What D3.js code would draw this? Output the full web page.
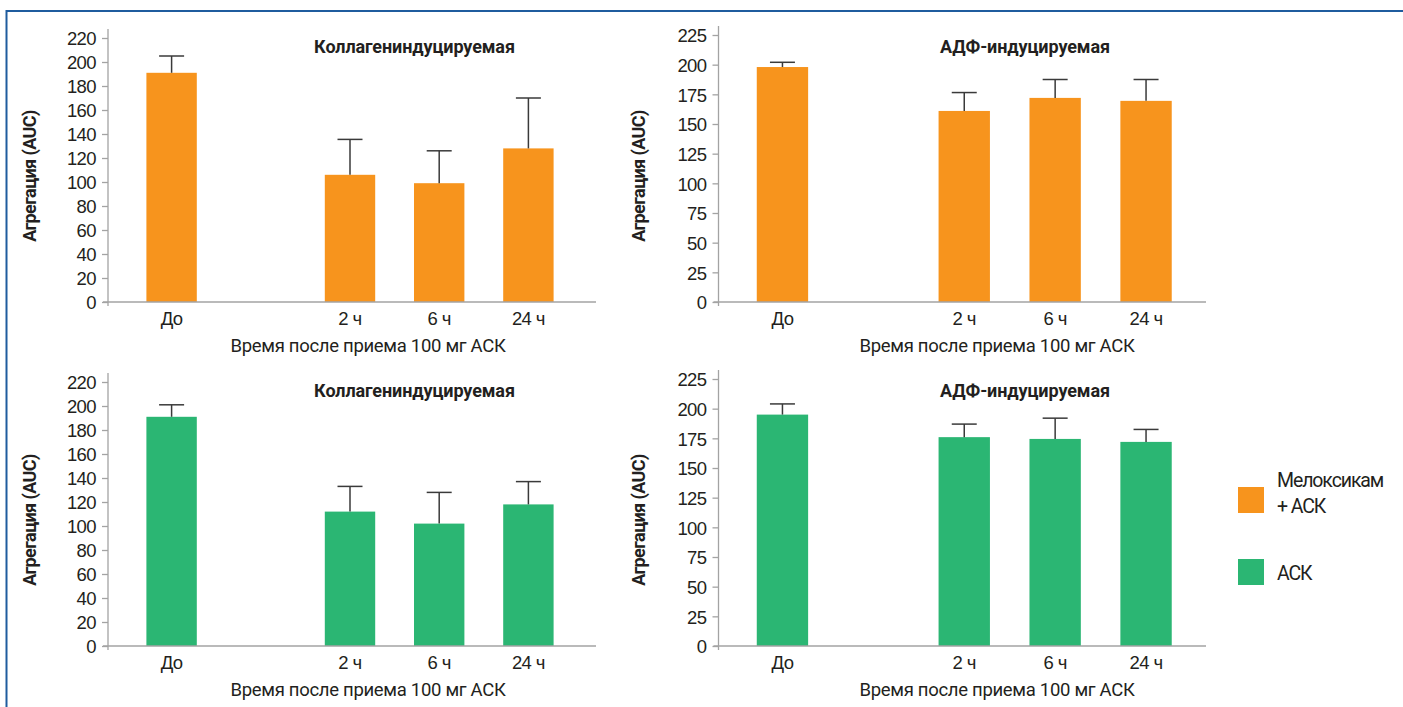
<!DOCTYPE html>
<html>
<head>
<meta charset="utf-8">
<script src="https://cdn.jsdelivr.net/npm/d3@7"></script>
<style>
  body { margin: 0; background: #fff; }
  svg { display: block; font-family: Roboto, "Liberation Sans", sans-serif; }
</style>
</head>
<body>
<svg id="chart" width="1403" height="707"></svg>
<script>
// data
const categories = ["До", "2 ч", "6 ч", "24 ч"];
const xTitle = "Время после приема 100 мг АСК";
const yTitle = "Агрегация (AUC)";
const collagenTitle = "Коллагениндуцируемая";
const adpTitle = "АДФ-индуцируемая";
const collagenTicks = [0, 20, 40, 60, 80, 100, 120, 140, 160, 180, 200, 220];
const adpTicks = [0, 25, 50, 75, 100, 125, 150, 175, 200, 225];

const meloxCollagen = [191, 106, 99, 128];
const meloxCollagenSd = [14, 29.5, 27, 42];
const meloxAdp = [198, 161, 172, 169.5];
const meloxAdpSd = [4, 15.5, 15.5, 18];
const askCollagen = [191, 112, 102, 118];
const askCollagenSd = [10, 21, 26, 19];
const askAdp = [195, 176, 174.5, 172];
const askAdpSd = [9, 11, 17.5, 10.5];

const legendLabels = [["Мелоксикам", "+ АСК"], ["АСК"]];

(function () {
  const ORANGE = "#f7941d", GREEN = "#2bb673";
  const TEXT = "#231f20", AXIS = "#a3a3a3";
  const svg = d3.select("#chart");

  // frame
  svg.append("path")
    .attr("d", "M6.5,707V11H1403")
    .attr("fill", "none")
    .attr("stroke", "#1f5c9e")
    .attr("stroke-width", 2);

  const cols = [
    { axisX: 108, inner: [127, 573], axisEnd: 596, titleX: 414.5, xTitleX: 368, yLabelX: 30, ticks: collagenTicks, yMax: 220, yPx: 264, title: collagenTitle },
    { axisX: 718.5, inner: [737, 1191.5], axisEnd: 1206, titleX: 1025, xTitleX: 997, yLabelX: 639, ticks: adpTicks, yMax: 225, yPx: 267, title: adpTitle }
  ];
  const rows = [{ y0: 302, color: ORANGE }, { y0: 646, color: GREEN }];

  const panels = [
    { col: 0, row: 0, values: meloxCollagen, sd: meloxCollagenSd },
    { col: 1, row: 0, values: meloxAdp, sd: meloxAdpSd },
    { col: 0, row: 1, values: askCollagen, sd: askCollagenSd },
    { col: 1, row: 1, values: askAdp, sd: askAdpSd }
  ];

  const slots = [categories[0], "gap", ...categories.slice(1)];
  const tickFont = 18.5;

  panels.forEach(p => {
    const c = cols[p.col], r = rows[p.row];
    const g = svg.append("g");

    const x = d3.scaleBand().domain(slots).range(c.inner).paddingInner(0.435).paddingOuter(0.2175);
    const y = d3.scaleLinear().domain([0, c.yMax]).range([r.y0, r.y0 - c.yPx]);

    const rowsData = categories.map((k, i) => ({ k, v: p.values[i], sd: p.sd[i] }));

    // bars
    g.selectAll("rect.bar").data(rowsData).join("rect")
      .attr("x", d => x(d.k))
      .attr("y", d => y(d.v))
      .attr("width", x.bandwidth())
      .attr("height", d => y(0) - y(d.v))
      .attr("fill", r.color);

    // error bars (upper only)
    const cap = 25;
    rowsData.forEach(d => {
      const cx = x(d.k) + x.bandwidth() / 2;
      g.append("line")
        .attr("x1", cx).attr("x2", cx)
        .attr("y1", y(d.v)).attr("y2", y(d.v + d.sd))
        .attr("stroke", "#3a3a3a").attr("stroke-width", 1.5);
      g.append("line")
        .attr("x1", cx - cap / 2).attr("x2", cx + cap / 2)
        .attr("y1", y(d.v + d.sd)).attr("y2", y(d.v + d.sd))
        .attr("stroke", "#3a3a3a").attr("stroke-width", 1.5);
    });

    // y axis
    const ya = g.append("g")
      .attr("transform", `translate(${c.axisX},0)`)
      .call(d3.axisLeft(y).tickValues(c.ticks).tickSize(6).tickPadding(6));
    ya.select(".domain").remove();
    ya.selectAll(".tick line").attr("stroke", AXIS).attr("stroke-width", 1.3);
    ya.selectAll(".tick text")
      .attr("fill", TEXT).attr("font-size", tickFont).attr("font-family", null)
      .attr("letter-spacing", -0.6).attr("dy", "0.36em");
    g.append("line")
      .attr("x1", c.axisX).attr("x2", c.axisX)
      .attr("y1", y(0) + 4).attr("y2", y(c.yMax) - 9)
      .attr("stroke", AXIS).attr("stroke-width", 1.3);

    // x axis
    g.append("line")
      .attr("x1", c.axisX - 5).attr("x2", c.axisEnd)
      .attr("y1", y(0)).attr("y2", y(0))
      .attr("stroke", AXIS).attr("stroke-width", 1.3);
    const xa = g.append("g")
      .attr("transform", `translate(0,${y(0)})`)
      .call(d3.axisBottom(x).tickValues(categories).tickSize(0).tickPadding(10));
    xa.select(".domain").remove();
    xa.selectAll(".tick text")
      .attr("fill", TEXT).attr("font-size", tickFont).attr("font-family", null)
      .attr("letter-spacing", -0.6);

    // titles
    g.append("text")
      .attr("x", c.titleX).attr("y", r.y0 - 249)
      .attr("text-anchor", "middle")
      .attr("font-weight", "bold").attr("font-size", 18)
      .attr("letter-spacing", -0.1)
      .attr("fill", TEXT)
      .text(c.title);

    g.append("text")
      .attr("x", c.xTitleX).attr("y", r.y0 + 50)
      .attr("text-anchor", "middle")
      .attr("font-size", tickFont)
      .attr("letter-spacing", -0.3)
      .attr("fill", TEXT)
      .text(xTitle);

    g.append("text")
      .attr("transform", `translate(${c.yLabelX + 6},${r.y0 - 126}) rotate(-90)`)
      .attr("text-anchor", "middle")
      .attr("font-weight", "bold").attr("font-size", 18)
      .attr("letter-spacing", -0.6)
      .attr("fill", TEXT)
      .text(yTitle);
  });

  // legend
  const legendColors = [ORANGE, GREEN];
  const legendY = d3.scalePoint().domain(d3.range(legendLabels.length)).range([487, 559]);
  legendLabels.forEach((lines, i) => {
    const top = legendY(i);
    svg.append("rect")
      .attr("x", 1238).attr("y", top)
      .attr("width", 26).attr("height", 26)
      .attr("fill", legendColors[i]);
    const t = svg.append("text")
      .attr("x", 1277)
      .attr("font-size", 19.5)
      .attr("letter-spacing", -1.1)
      .attr("fill", TEXT);
    lines.forEach((s, j) => {
      t.append("tspan")
        .attr("x", 1277)
        .attr("y", lines.length > 1 ? top + j * 26 : top + 21)
        .text(s);
    });
  });
})();
</script>
</body>
</html>
